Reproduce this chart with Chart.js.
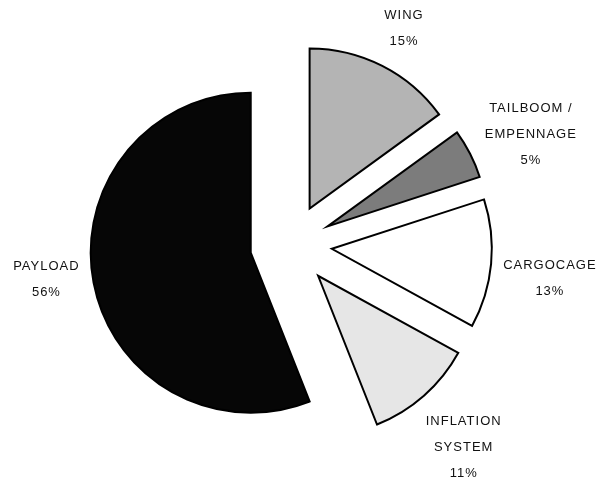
<!DOCTYPE html>
<html>
<head>
<meta charset="utf-8">
<script src="https://cdn.jsdelivr.net/npm/chart.js@4.4.1/dist/chart.umd.min.js"></script>
<style>
  body { margin: 0; background: #fff; }
  #wrap { width: 601px; height: 483px; }
</style>
</head>
<body>
<div id="wrap"><canvas id="massChart"></canvas></div>
<script>
// mass breakdown, clockwise from 12 o'clock
const categories = [['WING'], ['TAILBOOM /', 'EMPENNAGE'], ['CARGOCAGE'], ['INFLATION', 'SYSTEM'], ['PAYLOAD']];
const shares = [15, 5, 13, 11, 56];

const fills = ['#b4b4b4', '#7c7c7c', '#ffffff', '#e6e6e6', '#060606'];
const EXPLODE = 164; // chart.js translates each arc by offset / 4

// chart.js grows the radius and trims the angle of offset arcs (hover effect),
// undo that so every exploded slice keeps the same radius and its full sweep
const keepRadius = {
  id: 'keepRadius',
  afterDatasetsUpdate(chart) {
    const meta = chart.getDatasetMeta(0);
    const R = meta.controller.outerRadius;
    meta.data.forEach(arc => {
      const shift = EXPLODE / 4;
      const fix = 1 - Math.sin(Math.min(Math.PI, arc.circumference));
      const ro = shift * fix;
      arc.outerRadius = R - ro;
      const widen = ro / Math.PI / R / 2;
      arc.startAngle -= widen;
      arc.endAngle += widen;
    });
  }
};

const sliceLabels = {
  id: 'sliceLabels',
  afterDatasetsDraw(chart, args, opts) {
    const ctx = chart.ctx;
    const meta = chart.getDatasetMeta(0);
    ctx.save();
    ctx.font = '13px "Liberation Sans", Arial, sans-serif';
    ctx.fillStyle = '#111';
    ctx.textAlign = 'center';
    ctx.textBaseline = 'middle';
    ctx.letterSpacing = '1px';
    meta.data.forEach((arc, i) => {
      const mid = (arc.startAngle + arc.endAngle) / 2;
      const dist = EXPLODE / 4 + opts.distance;
      const cx = arc.x + Math.cos(mid) * dist + opts.nudge[i][0];
      const cy = arc.y + Math.sin(mid) * dist + opts.nudge[i][1];
      const lines = [...categories[i], shares[i] + '%'];
      const top = cy - (lines.length - 1) * opts.lineHeight / 2;
      lines.forEach((t, k) => ctx.fillText(t, cx, top + k * opts.lineHeight));
    });
    ctx.restore();
  }
};

new Chart(document.getElementById('massChart'), {
  type: 'pie',
  data: {
    labels: categories.map(c => c.join(' ')),
    datasets: [{
      data: shares,
      backgroundColor: fills,
      borderColor: '#000',
      borderWidth: 2,
      borderJoinStyle: 'miter',
      offset: EXPLODE
    }]
  },
  options: {
    responsive: true,
    maintainAspectRatio: false,
    animation: false,
    events: [],
    radius: 160,
    layout: { padding: { left: 0, right: 19, top: 7, bottom: 0 } },
    plugins: {
      legend: { display: false },
      tooltip: { enabled: false },
      sliceLabels: {
        distance: 208,
        lineHeight: 26,
        nudge: [[0, 5], [18, 2], [11, 10], [8, 16], [0, -12]]
      }
    }
  },
  plugins: [keepRadius, sliceLabels]
});
</script>
</body>
</html>
